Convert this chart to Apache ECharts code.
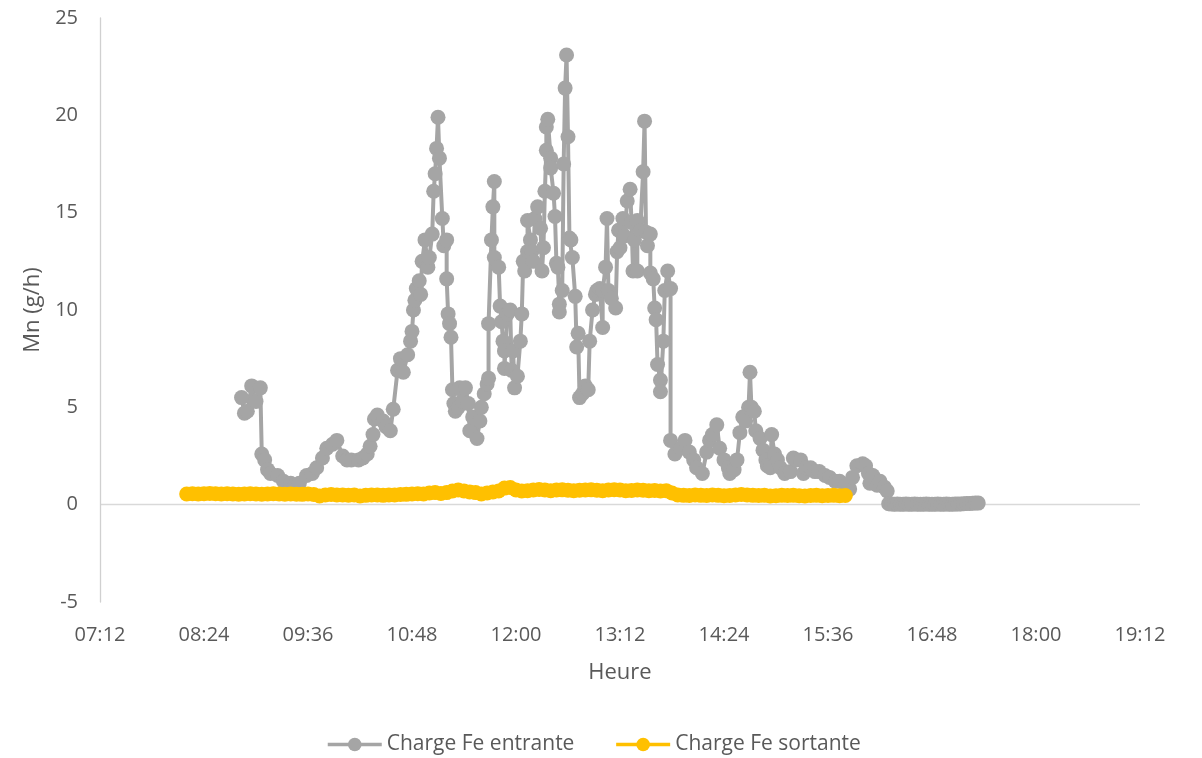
<!DOCTYPE html>
<html><head><meta charset="utf-8">
<script src="https://cdn.jsdelivr.net/npm/echarts@6/dist/echarts.min.js"></script>
<style>html,body{margin:0;padding:0;background:#fff}#c{width:1202px;height:758px}</style>
</head><body><div id="c"></div>
<script>
const xTickLabels = ['07:12','08:24','09:36','10:48','12:00','13:12','14:24','15:36','16:48','18:00','19:12'];
const yTicks = [-5, 0, 5, 10, 15, 20, 25];
const seriesNames = ['Charge Fe entrante', 'Charge Fe sortante'];

const grayTimes = [
'08:50','08:52','08:54','08:57','09:00','09:03','09:04','09:06','09:08','09:10',
'09:15','09:19','09:24','09:27','09:30','09:35','09:39','09:42','09:46','09:49',
'09:53','09:56','10:00','10:03','10:06','10:11','10:14','10:17','10:19','10:21',
'10:22','10:24','10:28','10:30','10:33','10:35','10:38','10:40','10:42','10:45',
'10:47','10:48','10:49','10:50','10:51','10:53','10:54','10:55','10:57','10:59',
'11:00','11:02','11:03','11:04','11:05','11:06','11:07','11:09','11:10','11:12',
'11:12','11:13','11:14','11:15','11:16','11:17','11:18','11:20','11:21','11:23',
'11:25','11:27','11:28','11:30','11:33','11:35','11:36','11:38','11:40','11:41',
'11:41','11:43','11:44','11:45','11:45','11:48','11:49','11:50','11:51','11:52',
'11:52','11:54','11:56','11:57','11:58','11:59','12:01','12:03','12:04','12:05',
'12:06','12:08','12:08','12:10','12:11','12:12','12:13','12:15','12:17','12:18',
'12:19','12:20','12:21','12:21','12:22','12:24','12:24','12:26','12:27','12:28',
'12:29','12:30','12:30','12:32','12:33','12:34','12:35','12:36','12:37','12:38',
'12:39','12:41','12:42','12:43','12:44','12:46','12:48','12:50','12:51','12:53',
'12:55','12:56','12:58','13:00','13:00','13:02','13:03','13:04','13:06','13:09',
'13:10','13:11','13:12','13:13','13:14','13:15','13:17','13:19','13:20','13:21',
'13:22','13:24','13:24','13:26','13:28','13:29','13:30','13:31','13:33','13:33',
'13:35','13:36','13:37','13:38','13:40','13:40','13:42','13:43','13:45','13:47',
'13:47','13:50','13:54','13:57','14:00','14:03','14:05','14:09','14:12','14:14',
'14:16','14:19','14:21','14:24','14:27','14:28','14:31','14:33','14:35','14:37',
'14:39','14:41','14:42','14:43','14:45','14:46','14:49','14:51','14:53','14:54',
'14:56','14:57','14:59','15:01','15:03','15:06','15:10','15:12','15:14','15:17',
'15:19','15:21','15:24','15:27','15:30','15:34','15:37','15:41','15:44','15:48',
'15:51','15:53','15:56','16:00','16:02','16:04','16:05','16:07','16:10','16:12',
'16:15','16:17','16:18','16:20','16:22','16:24','16:26','16:28','16:30','16:32',
'16:34','16:36','16:38','16:40','16:42','16:44','16:46','16:48','16:50','16:52',
'16:54','16:56','16:58','17:00','17:02','17:04','17:06','17:08','17:10','17:12',
'17:14','17:16','17:18','17:20'
];
const grayValues = [
5.5,4.7,4.8,6.1,5.3,6.0,2.6,2.3,1.8,1.6,
1.5,1.2,1.1,1.0,1.1,1.5,1.6,1.9,2.4,2.9,
3.1,3.3,2.5,2.3,2.3,2.3,2.4,2.6,3.0,3.6,
4.4,4.6,4.3,4.0,3.8,4.9,6.9,7.5,6.8,7.7,
8.4,8.9,10.0,10.5,11.1,11.5,10.8,12.5,13.6,12.2,
12.7,13.9,16.1,17.0,18.3,19.9,17.8,14.7,13.3,13.6,
11.6,9.8,9.3,8.6,5.9,5.2,4.8,5.0,6.0,5.3,
6.0,5.2,3.8,4.5,3.4,4.3,5.0,5.7,6.2,6.5,
9.3,13.6,15.3,16.6,12.7,12.2,10.2,9.4,8.4,7.9,
7.0,9.8,10.0,6.9,7.9,6.0,6.6,8.4,9.8,12.5,
12.0,13.0,14.6,13.6,13.0,12.5,14.7,15.3,14.2,12.0,
13.2,16.1,18.2,19.4,19.8,17.8,17.3,16.0,14.8,12.4,
12.2,10.3,9.9,11.0,17.5,21.4,23.1,18.9,13.7,13.6,
12.7,10.7,8.1,8.8,5.5,5.7,6.1,5.9,8.4,10.0,
10.8,11.0,11.1,9.1,11.0,12.2,14.7,11.0,10.6,10.1,
13.0,14.1,13.2,14.0,14.7,13.8,15.6,16.2,14.5,12.0,
13.6,12.0,14.6,14.1,17.1,19.7,14.0,13.3,13.9,11.9,
11.6,10.1,9.5,7.2,6.4,5.8,8.4,11.0,12.0,11.1,
3.3,2.6,2.9,3.3,2.7,2.3,1.9,1.6,2.7,3.3,
3.6,4.1,2.9,2.3,1.9,1.6,1.8,2.3,3.7,4.5,
4.3,5.0,6.8,5.0,4.8,3.8,3.4,2.8,2.3,2.0,
1.9,3.6,2.6,2.3,1.9,1.6,1.7,2.4,2.3,2.3,
1.6,1.9,1.9,1.7,1.7,1.5,1.4,1.2,1.2,1.0,
0.8,1.4,2.0,2.1,2.0,1.6,1.1,1.5,1.0,1.2,
0.9,0.7,0.05,0.03,0.02,0.03,0.02,0.02,0.03,0.02,
0.02,0.03,0.02,0.02,0.02,0.03,0.02,0.02,0.02,0.03,
0.02,0.02,0.03,0.02,0.02,0.03,0.03,0.04,0.05,0.06,
0.06,0.07,0.08,0.08
];

const orangeTimes = [
'08:12','08:16','08:20','08:24','08:28','08:32','08:36','08:40','08:44','08:48',
'08:52','08:56','09:00','09:04','09:08','09:12','09:16','09:20','09:24','09:28',
'09:32','09:36','09:40','09:44','09:48','09:52','09:56','10:00','10:04','10:08',
'10:12','10:16','10:20','10:24','10:28','10:32','10:36','10:40','10:44','10:48',
'10:52','10:56','11:00','11:04','11:08','11:12','11:16','11:20','11:24','11:28',
'11:32','11:36','11:40','11:44','11:48','11:52','11:56','12:00','12:04','12:08',
'12:12','12:16','12:20','12:24','12:28','12:32','12:36','12:40','12:44','12:48',
'12:52','12:56','13:00','13:04','13:08','13:12','13:16','13:20','13:24','13:28',
'13:32','13:36','13:40','13:44','13:48','13:52','13:56','14:00','14:04','14:08',
'14:12','14:16','14:20','14:24','14:28','14:32','14:36','14:40','14:44','14:48',
'14:52','14:56','15:00','15:04','15:08','15:12','15:16','15:20','15:24','15:28',
'15:32','15:36','15:40','15:44','15:48'
];
const orangeValues = [
0.55,0.56,0.55,0.56,0.57,0.56,0.55,0.56,0.55,0.54,
0.55,0.56,0.55,0.54,0.55,0.56,0.55,0.54,0.55,0.54,
0.53,0.55,0.52,0.45,0.50,0.52,0.50,0.50,0.49,0.50,
0.45,0.48,0.50,0.50,0.48,0.50,0.50,0.52,0.53,0.55,
0.56,0.55,0.60,0.62,0.58,0.62,0.70,0.75,0.70,0.65,
0.62,0.55,0.60,0.65,0.70,0.85,0.88,0.75,0.70,0.72,
0.75,0.78,0.75,0.72,0.75,0.76,0.74,0.72,0.74,0.75,
0.76,0.74,0.72,0.75,0.77,0.75,0.72,0.73,0.75,0.74,
0.72,0.73,0.70,0.72,0.60,0.50,0.48,0.47,0.50,0.48,
0.47,0.50,0.48,0.46,0.47,0.50,0.52,0.50,0.48,0.47,
0.48,0.45,0.46,0.48,0.47,0.48,0.46,0.45,0.47,0.48,
0.46,0.47,0.48,0.46,0.47
];

function toMin(s) { const p = s.split(':'); return Number(p[0]) * 60 + Number(p[1]); }
function fmtTime(v) {
  const h = Math.floor(v / 60), m = Math.round(v - h * 60);
  return String(h).padStart(2, '0') + ':' + String(m).padStart(2, '0');
}
const grayData = grayTimes.map((t, i) => [toMin(t), grayValues[i]]);
const orangeData = orangeTimes.map((t, i) => [toMin(t), orangeValues[i]]);

const FONT = 'Open Sans';
const TXT = '#595959';
const xMin = toMin(xTickLabels[0]);
const xMax = toMin(xTickLabels[xTickLabels.length - 1]);
const xStep = toMin(xTickLabels[1]) - xMin;
const yStep = yTicks[1] - yTicks[0];
const splitColors = yTicks.map(v => v === 0 ? '#D9D9D9' : 'rgba(0,0,0,0)');

const chart = echarts.init(document.getElementById('c'), null, { renderer: 'canvas' });
chart.setOption({
  animation: false,
  backgroundColor: '#ffffff',
  textStyle: { fontFamily: FONT, color: TXT },
  grid: { left: 100, right: 62, top: 18, bottom: 156, containLabel: false },
  xAxis: {
    type: 'value', min: xMin, max: xMax, interval: xStep,
    name: 'Heure', nameLocation: 'middle', nameGap: 60,
    nameTextStyle: { fontFamily: FONT, fontSize: 22, color: TXT },
    axisLine: { show: false, onZero: false },
    axisTick: { show: false },
    splitLine: { show: false },
    axisLabel: { fontFamily: FONT, fontSize: 20, color: TXT, margin: 23, formatter: v => fmtTime(v), showMinLabel: true, showMaxLabel: true }
  },
  yAxis: {
    type: 'value', min: yTicks[0], max: yTicks[yTicks.length - 1], interval: yStep,
    name: 'Mn (g/h)', nameLocation: 'middle', nameGap: 56, nameRotate: 90,
    nameTextStyle: { fontFamily: FONT, fontSize: 22, color: TXT },
    axisLine: { show: true, lineStyle: { color: '#D0D0D0', width: 1.3 } },
    axisTick: { show: false },
    splitLine: { show: true, lineStyle: { color: splitColors, width: 1.3 } },
    axisLabel: { fontFamily: FONT, fontSize: 20, color: TXT, margin: 22 }
  },
  legend: {
    show: true, bottom: 3, left: 326, padding: 0, itemWidth: 54, itemHeight: 17, itemGap: 40,
    textStyle: { fontFamily: FONT, fontSize: 21, color: TXT },
    lineStyle: { width: 3.5 },
    data: seriesNames
  },
  series: [
    {
      name: seriesNames[0], type: 'line', data: grayData,
      symbol: 'circle', symbolSize: 15, showSymbol: true, showAllSymbol: true,
      itemStyle: { color: '#A5A5A5' }, lineStyle: { color: '#A5A5A5', width: 4 },
      emphasis: { disabled: true }, z: 2
    },
    {
      name: seriesNames[1], type: 'line', data: orangeData,
      symbol: 'circle', symbolSize: 15, showSymbol: true, showAllSymbol: true,
      itemStyle: { color: '#FFC000' }, lineStyle: { color: '#FFC000', width: 4 },
      emphasis: { disabled: true }, z: 3
    }
  ]
});
</script></body></html>
